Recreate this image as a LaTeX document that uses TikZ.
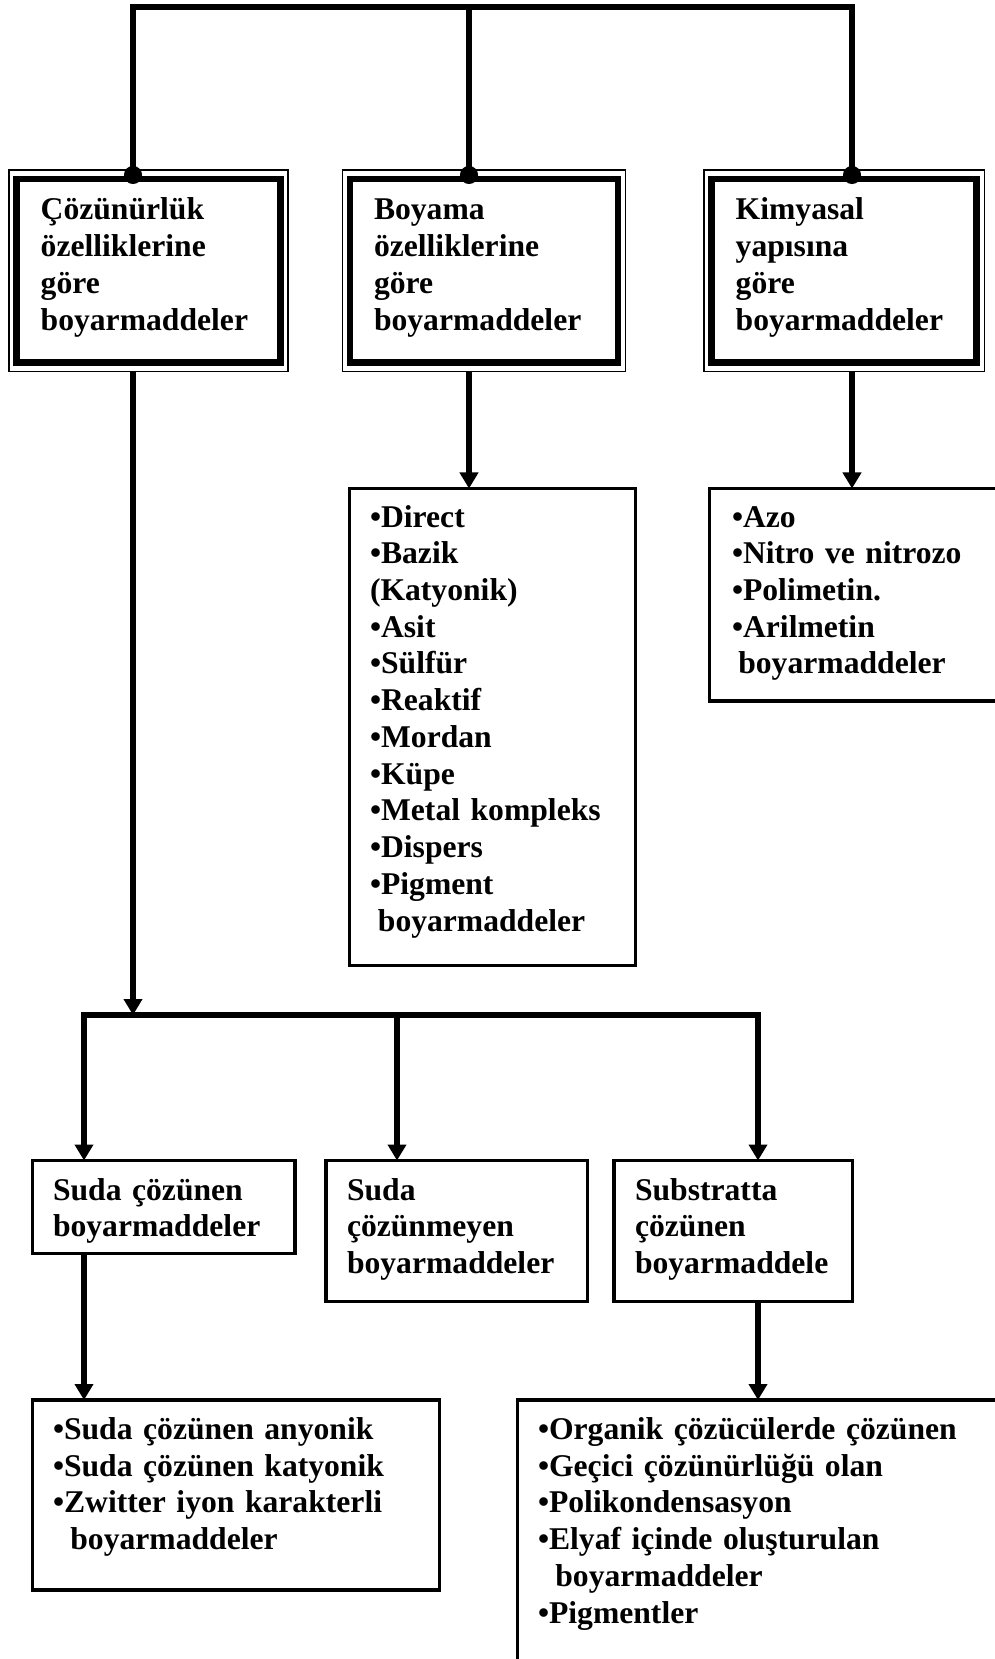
\documentclass[tikz,border=0pt]{standalone}
\usepackage{fontspec}
\setmainfont{Liberation Serif}
\usepackage{tikz}
\usetikzlibrary{arrows.meta,fit}
\hyphenpenalty=10000

\begin{document}
\begin{tikzpicture}[
	box/.style={draw,line width=2.2pt,anchor=north west,outer sep=0pt,inner ysep=0pt,inner xsep=0.41cm,align=left,font=\fontsize{18pt}{20.9pt}\selectfont\bfseries},
	headbox/.style={box,line width=3.8pt,inner xsep=0.48cm,text height=0.82cm,text depth=2.85cm},
	headframe/.style={draw,line width=0.85pt,inner xsep=0.152cm,inner ysep=0.18cm,outer sep=0pt},
	conn/.style={line width=3pt},
	arr/.style={conn,->,>={Triangle[width=0.36cm,length=0.32cm]}},
	dotline/.style={conn,>={Circle[length=0.36cm]},shorten >=-0.1cm}
	]
	\useasboundingbox (0,0) rectangle (19.9,-33.18);
	\clip (0,0) rectangle (19.9,-33.18);
	
	%head boxes
	\node[headbox,text width=4.31cm] (cb) at (0.334,-3.58) {Çözünürlük\\özelliklerine\\göre\\boyarmaddeler};
	\node[headbox,text width=4.40cm] (bb) at (7.0,-3.58)   {Boyama\\özelliklerine\\göre\\boyarmaddeler};
	\node[headbox,text width=4.34cm] (kb) at (14.234,-3.58){Kimyasal\\yapısına\\göre\\boyarmaddeler};
	\node[headframe,fit=(cb)] (cbf) {};
	\node[headframe,fit=(bb)] (bbf) {};
	\node[headframe,fit=(kb)] (kbf) {};
	
	%lists
	\node[box,text width=4.9cm,text height=0.77cm,text depth=8.77cm] (bl) at (6.99,-9.77)
		{•Direct\\•Bazik\\(Katyonik)\\•Asit\\•Sülfür\\•Reaktif\\•Mordan\\•Küpe\\•Metal kompleks\\•Dispers\\•Pigment\\\hspace*{0.25em}boyarmaddeler};
	\node[box,inner xsep=0.45cm,text width=5.6cm,text height=0.77cm,text depth=3.48cm] (kl) at (14.19,-9.77)
		{•Azo\\•Nitro ve nitrozo\\•Polimetin.\\•Arilmetin\\\hspace*{0.2em}boyarmaddeler};
	
	%second row
	\node[box,text width=4.43cm,text height=0.79cm,text depth=1.07cm] (sc) at (0.65,-23.21)
		{Suda çözünen\\boyarmaddeler};
	\node[box,inner xsep=0.42cm,text width=4.39cm,text height=0.79cm,text depth=2.03cm] (sn) at (6.52,-23.21)
		{Suda\\çözünmeyen\\boyarmaddeler};
	\node[box,inner xsep=0.42cm,text width=3.93cm,text height=0.79cm,text depth=2.03cm] (ss) at (12.28,-23.21)
		{Substratta\\çözünen\\boyarmaddele};
	
	%bottom lists
	\node[box,text width=7.32cm,text height=0.79cm,text depth=3.01cm] (sl) at (0.65,-28.0)
		{•Suda çözünen anyonik\\•Suda çözünen katyonik\\•Zwitter iyon karakterli\\\hspace*{0.55em}boyarmaddeler};
	\node[box,text width=9cm,text height=0.79cm,text depth=6cm] (sr) at (10.35,-28.0)
		{•Organik çözücülerde çözünen\\•Geçici çözünürlüğü olan\\•Polikondensasyon\\•Elyaf içinde oluşturulan\\\hspace*{0.55em}boyarmaddeler\\•Pigmentler};
	
	%top connector
	\coordinate (t1) at (2.66,-0.14);
	\coordinate (t2) at (9.38,-0.14);
	\coordinate (t3) at (17.04,-0.14);
	\draw[dotline,<->,shorten <=-0.1cm] (t1 |- cb.north) -- (t1) -- (t3) -- (t3 |- kb.north);
	\draw[dotline,->] (t2) -- (t2 |- bb.north);
	
	%arrows
	\coordinate (b1) at (1.68,-20.3);
	\coordinate (b2) at (7.94,-20.3);
	\coordinate (b3) at (15.16,-20.3);
	\draw[arr] (t1 |- cbf.south) -- (t1 |- b1);
	\draw[arr] (t2 |- bbf.south) -- (t2 |- bl.north);
	\draw[arr] (t3 |- kbf.south) -- (t3 |- kl.north);
	%
	\draw[arr,<->] (b1 |- sc.north) -- (b1) -- (b3) -- (b3 |- ss.north);
	\draw[arr] (b2) -- (b2 |- sn.north);
	%
	\draw[arr] (b1 |- sc.south) -- (b1 |- sl.north);
	\draw[arr] (b3 |- ss.south) -- (b3 |- sr.north);
\end{tikzpicture}
\end{document}
